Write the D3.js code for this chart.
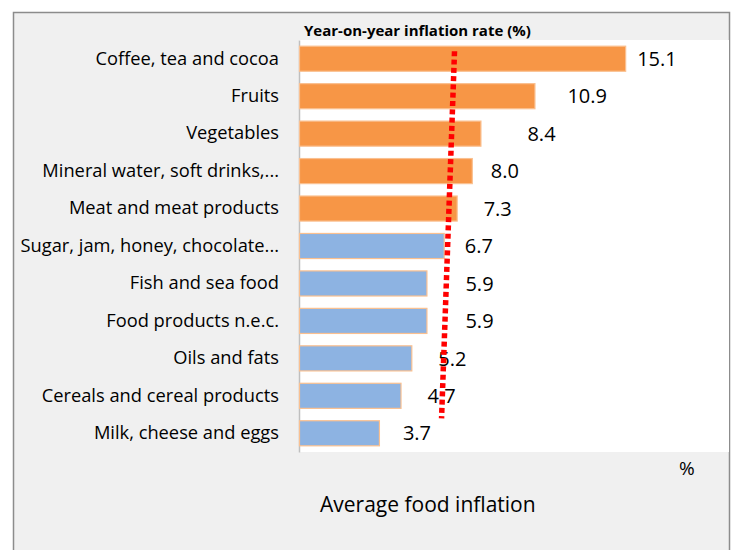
<!DOCTYPE html>
<html>
<head>
<meta charset="utf-8">
<script src="https://cdn.jsdelivr.net/npm/d3@7"></script>
<style>
  body { margin: 0; background: #fff; }
  svg { display: block; }
  text { font-family: "Open Sans", "Noto Sans", sans-serif; fill: #000; }
</style>
</head>
<body>
<div class="container"></div>
<script>
// categories, top to bottom
var categories = [
  "Coffee, tea and cocoa",
  "Fruits",
  "Vegetables",
  "Mineral water, soft drinks,...",
  "Meat and meat products",
  "Sugar, jam, honey, chocolate...",
  "Fish and sea food",
  "Food products n.e.c.",
  "Oils and fats",
  "Cereals and cereal products",
  "Milk, cheese and eggs"
];
var values = [15.1, 10.9, 8.4, 8.0, 7.3, 6.7, 5.9, 5.9, 5.2, 4.7, 3.7];
var valueLabels = ["15.1", "10.9", "8.4", "8.0", "7.3", "6.7", "5.9", "5.9", "5.2", "4.7", "3.7"];
// above average -> orange, below -> blue
var aboveAvg = [true, true, true, true, true, false, false, false, false, false, false];
// dotted average line: value at top / bottom, in category-index units
var avgLineValues = [7.2, 6.6];
var avgLineIndex = [-0.2, 9.6];
var xDomain = [0, 20];

// layout tweaks for the value labels (px after the bar end)
var labelPad = [12, 33, 47, 19, 27, 21, 39, 39, 27, 27, 24];

var W = 732, H = 550;
var plot = { left: 299, right: 731, top: 40, bottom: 452 };

var svg = d3.select(".container").append("svg")
  .attr("width", W)
  .attr("height", H);

// grey outer panel
svg.append("rect")
  .attr("x", 13.5).attr("y", 12.5)
  .attr("width", 716).attr("height", 560)
  .attr("fill", "#f0f0f0")
  .attr("stroke", "#8c8c8c")
  .attr("stroke-width", 1.5);

// white plot area
svg.append("rect")
  .attr("x", plot.left).attr("y", plot.top)
  .attr("width", 729 - plot.left).attr("height", plot.bottom - plot.top)
  .attr("fill", "#fff");

var x = d3.scaleLinear().domain(xDomain).range([plot.left, plot.right]);
var y = d3.scaleBand().domain(categories).range([plot.top, plot.bottom])
  .paddingInner(0.33).paddingOuter(0.165);
var yIdx = d3.scaleLinear().domain([0, 1])
  .range([y(categories[0]) + y.bandwidth() / 2, y(categories[0]) + y.bandwidth() / 2 + y.step()]);

// category axis
var yAxis = d3.axisLeft(y).tickSize(0).tickPadding(20);
var yg = svg.append("g")
  .attr("transform", "translate(" + plot.left + ",0)")
  .call(yAxis);
yg.select(".domain").attr("stroke", "#bfbfbf").attr("stroke-width", 1.5);
yg.selectAll(".tick text")
  .style("font-size", "18.3px")
  .attr("fill", "#000");

// bars
svg.selectAll("rect.bar")
  .data(values)
  .enter()
  .append("rect")
  .attr("class", "bar")
  .attr("x", x(0) + 0.5)
  .attr("y", (d, i) => y(categories[i]))
  .attr("width", (d) => x(d) - x(0))
  .attr("height", y.bandwidth())
  .attr("fill", (d, i) => aboveAvg[i] ? "#f79646" : "#8db3e2")
  .attr("stroke", "#fac090")
  .attr("stroke-width", 1.2);

// value labels
svg.selectAll("text.val")
  .data(values)
  .enter()
  .append("text")
  .attr("class", "val")
  .attr("x", (d, i) => x(d) + labelPad[i])
  .attr("y", (d, i) => y(categories[i]) + y.bandwidth() / 2)
  .attr("dy", "0.36em")
  .style("font-size", "20px")
  .text((d, i) => valueLabels[i]);

// red dotted average line
var line = d3.line()
  .x((d) => x(d[0]))
  .y((d) => yIdx(d[1]));
svg.append("path")
  .datum(avgLineValues.map((v, i) => [v, avgLineIndex[i]]))
  .attr("d", line)
  .attr("fill", "none")
  .attr("stroke", "#ff0000")
  .attr("stroke-width", 5.5)
  .attr("stroke-dasharray", "5,3.3");

// titles
svg.append("text")
  .attr("x", 304).attr("y", 36)
  .style("font-size", "15px")
  .style("font-weight", "bold")
  .text("Year-on-year inflation rate (%)");

svg.append("text")
  .attr("x", 679).attr("y", 475)
  .style("font-size", "19px")
  .text("%");

svg.append("text")
  .attr("x", 320).attr("y", 512)
  .style("font-size", "21px")
  .text("Average food inflation");
</script>
</body>
</html>
